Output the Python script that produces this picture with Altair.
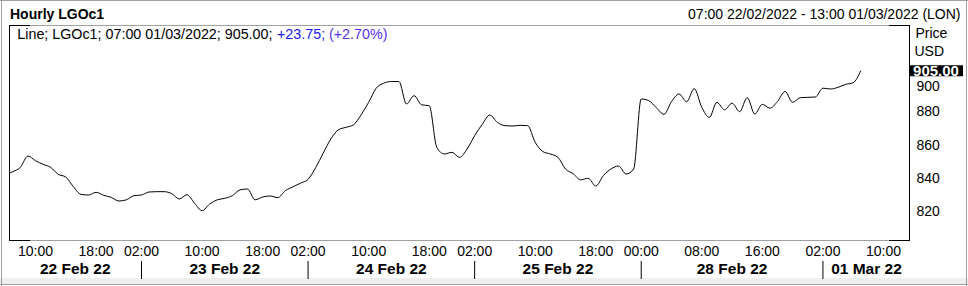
import altair as alt
import pandas as pd

# ---- data (hourly trading-hour index since 07:00 22/02/2022, price USD) ----
hour_index = list(range(-1, 113))
price = [
    842.5,
    844.4, 847.0, 853.8, 851.0, 848.8, 847.0, 842.8, 841.2, 835.4, 830.8,
    830.4, 832.0, 830.2, 829.0, 826.8, 827.5, 830.0, 830.4, 832.2, 832.4,
    832.4, 831.2, 828.0, 830.6, 825.5, 821.0, 825.0, 827.5, 828.4, 830.0,
    833.5, 834.0, 827.5, 829.2, 829.8, 828.8, 833.0, 835.3, 837.5, 839.8,
    846.8, 855.5, 864.0, 869.5, 871.0, 872.5, 878.5, 886.0, 894.5, 897.5,
    898.5, 898.5, 885.0, 890.0, 884.5, 884.0, 859.0, 855.0, 856.0, 853.0,
    858.0, 866.0, 872.8, 878.4, 874.0, 872.0, 871.8, 872.2, 872.0, 862.0,
    856.5, 855.0, 853.0, 846.0, 843.2, 839.5, 840.4, 835.8, 842.0, 846.0,
    847.8, 843.0, 846.0, 888.0, 887.0, 882.8, 878.8, 886.4, 891.0, 886.4,
    894.2, 883.0, 877.0, 886.0, 881.5, 885.5, 880.4, 888.8, 879.0, 884.8,
    882.5, 886.5, 892.5, 886.0, 888.8, 889.0, 889.2, 894.5, 894.0, 895.0,
    896.8, 897.8, 905.0,
]

tick_k = [3, 11, 17, 25, 33, 39, 47, 55, 61, 69, 77, 83, 91, 99, 107, 115]
tick_labels = ["10:00", "18:00", "02:00", "10:00", "18:00", "02:00", "10:00", "18:00",
               "02:00", "10:00", "18:00", "00:00", "08:00", "16:00", "02:00", "10:00"]
day_sep_k = [17, 39, 61, 83, 107]
day_center_k = [8.25, 28, 50, 72, 95, 112.75]
day_labels = ["22 Feb 22", "23 Feb 22", "24 Feb 22", "25 Feb 22", "28 Feb 22", "01 Mar 22"]
y_ticks = [820, 840, 860, 880]
y_tick_top = [900]
last_price = [905.0]

title_text = "Hourly LGOc1"
range_text = "07:00 22/02/2022 - 13:00 01/03/2022 (LON)"
legend_main = "Line; LGOc1; 07:00 01/03/2022; 905.00;"
legend_chg = "+23.75;"
legend_pct = "(+2.70%)"

F = "Liberation Sans, Arial, sans-serif"
W, H = 901, 215

df = pd.DataFrame({"k": hour_index, "v": price})
xscale = alt.Scale(domain=[-0.5, 118.5], nice=False, zero=False)
yscale = alt.Scale(domain=[803.4, 932.4], nice=False, zero=False)
one = pd.DataFrame({"a": [0]})

layers = []

# outer band / frame
layers.append(alt.Chart(one).mark_rect(color="#efefef").encode(
    x=alt.value(-9), x2=alt.value(959), y=alt.value(253), y2=alt.value(259)))


def rule(x1, y1, x2, y2, color):
    return alt.Chart(one).mark_rule(color=color, strokeWidth=1).encode(
        x=alt.value(x1), y=alt.value(y1), x2=alt.value(x2), y2=alt.value(y2))


layers += [
    rule(-9, -24.5, 959, -24.5, "#a0a0a0"),
    rule(-9, 259.5, 959, 259.5, "#a0a0a0"),
    rule(-7.5, -25, -7.5, 261, "#a0a0a0"),
    rule(957.5, -25, 957.5, 261, "#a0a0a0"),
    # plot frame
    rule(0, 0.5, 900.5, 0.5, "#a0a0a0"),
    rule(0, 215.5, 900.5, 215.5, "#a0a0a0"),
    rule(0, 0.5, 21, 0.5, "black"),
    rule(880, 0.5, 900.5, 0.5, "black"),
    rule(0, 215.5, 21, 215.5, "black"),
    rule(880, 215.5, 900.5, 215.5, "black"),
    rule(0.5, 0, 0.5, 216, "black"),
    rule(900.5, 0, 900.5, 216, "black"),
]

# price line
line = alt.Chart(df).mark_line(color="black", strokeWidth=1, interpolate="monotone", clip=True).encode(
    x=alt.X("k:Q", scale=xscale,
            axis=alt.Axis(values=tick_k, labels=False, domain=False, grid=False, ticks=True,
                          tickSize=4, tickColor="#555555", tickDash=[1, 1], title=None)),
    y=alt.Y("v:Q", scale=yscale,
            axis=alt.Axis(orient="right", values=y_ticks + y_tick_top, labels=False, domain=False,
                          grid=False, tickSize=4, tickColor="black", title=None)),
)
layers.append(line)

# y labels
ylab = pd.DataFrame({"v": y_ticks})
layers.append(alt.Chart(ylab).mark_text(font=F, fontSize=14, align="left", baseline="middle", color="black").encode(
    x=alt.value(907.5), y=alt.Y("v:Q", scale=yscale, axis=None), text=alt.Text("v:Q", format="d")))
ylab2 = pd.DataFrame({"v": y_tick_top})
layers.append(alt.Chart(ylab2).mark_text(font=F, fontSize=14, align="left", baseline="middle", color="black", dy=7.5).encode(
    x=alt.value(907.5), y=alt.Y("v:Q", scale=yscale, axis=None), text=alt.Text("v:Q", format="d")))

# last price box
lp = pd.DataFrame({"v": last_price})
layers.append(alt.Chart(lp).transform_calculate(lo="datum.v - 3.3", hi="datum.v + 3.3").mark_rect(color="black").encode(
    x=alt.value(900.5), x2=alt.value(954), y=alt.Y("lo:Q", scale=yscale, axis=None), y2="hi:Q"))
layers.append(alt.Chart(lp).mark_text(font=F, fontSize=15, fontWeight="bold", color="white", align="center", baseline="middle", dy=0.5).encode(
    x=alt.value(927), y=alt.Y("v:Q", scale=yscale, axis=None), text=alt.Text("v:Q", format=".2f")))

# hour labels
hl = pd.DataFrame({"k": tick_k, "lbl": tick_labels})
layers.append(alt.Chart(hl).mark_text(font=F, fontSize=14, align="center", baseline="middle", color="black").encode(
    x=alt.X("k:Q", scale=xscale, axis=None), y=alt.value(227), text="lbl:N"))

# day separators (only in the date row)
sep = pd.DataFrame({"k": day_sep_k})
layers.append(alt.Chart(sep).mark_rule(color="black", strokeWidth=1).encode(
    x=alt.X("k:Q", scale=xscale, axis=None), y=alt.value(236), y2=alt.value(254)))

# day labels
dl = pd.DataFrame({"k": day_center_k, "lbl": day_labels})
layers.append(alt.Chart(dl).mark_text(font=F, fontSize=15.5, fontWeight="bold", align="center", baseline="middle", color="black").encode(
    x=alt.X("k:Q", scale=xscale, axis=None), y=alt.value(244), text="lbl:N"))


def label(txt, x, y, align="left", weight="normal", size=14, color="black"):
    return alt.Chart(one).mark_text(font=F, fontSize=size, fontWeight=weight, align=align,
                                    baseline="middle", color=color, text=txt).encode(
        x=alt.value(x), y=alt.value(y))


layers += [
    label(title_text, 1, -10.5, weight="bold", size=14),
    label(range_text, 951.5, -10.5, align="right", size=14),
    label(legend_main, 8.3, 10, size=14.3),
    label(legend_chg, 268, 10, size=14.3, color="#1c1cf0"),
    label(legend_pct, 320, 10, size=14.3, color="#5b30f0"),
    label("Price", 906.5, 8.5, size=14),
    label("USD", 905.5, 27, size=14),
]

chart = alt.layer(*layers).properties(
    width=W, height=H,
    padding={"left": 9, "top": 25, "right": 58, "bottom": 46},
    autosize=alt.AutoSizeParams(type="none"),
    background="white",
).configure_view(stroke=None)

chart.save("out.html", embed_options={"renderer": "svg", "actions": False})
